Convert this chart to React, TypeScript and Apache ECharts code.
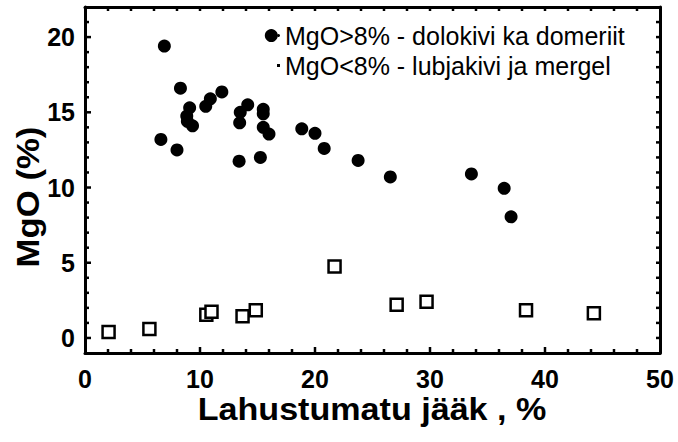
import React, { useEffect, useRef } from "react";
import * as echarts from "echarts";

const highMgO: [number, number][] = [
  [6.9, 19.4], [16.2, 20.1], [8.3, 16.6], [6.6, 13.2], [8.0, 12.5],
  [9.1, 15.3], [8.85, 14.75], [8.9, 14.4], [9.35, 14.1], [10.5, 15.4],
  [10.9, 15.9], [11.9, 16.35], [13.5, 15.0], [13.45, 14.3], [14.15, 15.5],
  [13.4, 11.75], [15.5, 15.2], [15.5, 14.9], [15.5, 14.0], [16.0, 13.55],
  [15.25, 12.0], [18.85, 13.9], [20.0, 13.6], [20.8, 12.6], [23.75, 11.8],
  [26.55, 10.7], [33.6, 10.9], [36.45, 9.95], [37.05, 8.05],
];
const lowMgO: [number, number][] = [
  [2.05, 0.4], [5.6, 0.6], [10.55, 1.55], [11.0, 1.75], [13.7, 1.45],
  [14.85, 1.85], [21.7, 4.75], [27.1, 2.2], [29.7, 2.4], [38.35, 1.85],
  [44.25, 1.65],
];
const seriesNames = ["MgO>8% - dolokivi ka domeriit", "MgO<8% - lubjakivi ja mergel"];
const xMajorTicks = [10, 20, 30, 40];
const xMinorTicks = [2, 4, 6, 8, 12, 14, 16, 18, 22, 24, 26, 28, 32, 34, 36, 38, 42, 44, 46, 48];
const yMajorTicks = [0, 5, 10, 15, 20];
const yMinorTicks = [1, 2, 3, 4, 6, 7, 8, 9, 11, 12, 13, 14, 16, 17, 18, 19, 21];
const X_MIN = 0, X_MAX = 50, X_LABEL_STEP = 10;
const Y_MIN = -1, Y_MAX = 22, Y_LABEL_STEP = 5;
const xTitle = "Lahustumatu jääk , %";
const yTitle = "MgO (%)";

const FONT = "'Liberation Sans', Arial, sans-serif";

export default function App() {
  const ref = useRef<HTMLDivElement>(null);
  useEffect(() => {
    document.body.style.margin = "0";
    const chart = echarts.init(ref.current!, null, { renderer: "svg" });
    const L = 85, R = 18, T = 7, B = 89;
    const plotH = 442 - T - B;
    const pxPerY = plotH / (Y_MAX - Y_MIN);
    const zeroBottom = B + (0 - Y_MIN) * pxPerY;
    const rect = { left: L, right: R, top: T, bottom: B };
    const line = () => ({ show: true, onZero: false, lineStyle: { color: "#000", width: 3 } });
    const labelStyle = { color: "#000", fontSize: 25, fontWeight: "bold", fontFamily: FONT };
    const hidden = { show: false };

    const titles = [
      {
        type: "text", x: 28, y: 197, rotation: Math.PI / 2, scaleX: 1.12,
        style: { text: yTitle, fill: "#000", font: `bold 31px ${FONT}`, align: "center", verticalAlign: "middle" },
      },
      {
        type: "text", x: 372, y: 410, scaleX: 1.1,
        style: { text: xTitle, fill: "#000", font: `bold 31px ${FONT}`, align: "center", verticalAlign: "middle" },
      },
    ];

    chart.setOption({
      animation: false,
      backgroundColor: "#fff",
      grid: [
        { ...rect, show: false },
        { ...rect, show: false },
        { left: L, right: R, top: T, bottom: zeroBottom, show: false },
      ],
      xAxis: [
        {
          type: "value", gridIndex: 0, position: "bottom", min: X_MIN, max: X_MAX, interval: X_LABEL_STEP,
          splitLine: hidden, axisLine: line(), axisTick: hidden,
          axisLabel: { ...labelStyle, margin: 13 },
        },
        {
          type: "value", gridIndex: 1, position: "top", min: X_MIN, max: X_MAX,
          splitLine: hidden, axisLine: line(), axisTick: hidden, axisLabel: hidden,
        },
        { type: "value", gridIndex: 2, min: X_MIN, max: X_MAX, show: false },
      ],
      yAxis: [
        {
          type: "value", gridIndex: 0, position: "left", min: Y_MIN, max: Y_MAX,
          splitLine: hidden, axisLine: line(), axisTick: hidden, axisLabel: hidden,
        },
        {
          type: "value", gridIndex: 1, position: "right", min: Y_MIN, max: Y_MAX,
          splitLine: hidden, axisLine: line(), axisTick: hidden, axisLabel: hidden,
        },
        {
          type: "value", gridIndex: 2, position: "left", min: 0, max: Y_MAX, interval: Y_LABEL_STEP,
          splitLine: hidden, axisLine: { show: false }, axisTick: hidden,
          axisLabel: { ...labelStyle, margin: 10, showMaxLabel: false },
        },
      ],
      legend: {
        orient: "vertical", left: 272, top: 18, itemWidth: 3, itemHeight: 3, itemGap: 5,
        textStyle: { color: "#000", fontSize: 25, fontFamily: FONT, lineHeight: 25 },
        data: [
          { name: seriesNames[0], icon: "circle", itemStyle: { color: "#000" } },
          { name: seriesNames[1], icon: "rect", itemStyle: { color: "#000", borderWidth: 0 } },
        ],
      },
      graphic: titles,
      series: [
        {
          name: seriesNames[0], type: "scatter", xAxisIndex: 0, yAxisIndex: 0,
          data: highMgO, symbol: "circle", symbolSize: 13,
          itemStyle: { color: "#000", opacity: 1 },
        },
        {
          name: seriesNames[1], type: "scatter", xAxisIndex: 0, yAxisIndex: 0,
          data: lowMgO, symbol: "rect", symbolSize: 12,
          itemStyle: { color: "#fff", borderColor: "#000", borderWidth: 2.5, opacity: 1 },
        },
      ],
    });

    // tick marks, positioned through the chart's own scales
    const toPx = (x: number, y: number) =>
      chart.convertToPixel({ seriesIndex: 0 }, [x, y]) as unknown as number[];
    const tickStyle = { stroke: "#000", lineWidth: 2.5 };
    const ticks: any[] = [];
    const addX = (values: number[], nearLen: number, farLen: number) => {
      values.forEach((v) => {
        const b = toPx(v, Y_MIN);
        const t = toPx(v, Y_MAX);
        ticks.push({ type: "line", z: 10, silent: true, shape: { x1: b[0], y1: b[1], x2: b[0], y2: b[1] - nearLen }, style: tickStyle });
        ticks.push({ type: "line", z: 10, silent: true, shape: { x1: t[0], y1: t[1], x2: t[0], y2: t[1] + farLen }, style: tickStyle });
      });
    };
    const addY = (values: number[], nearLen: number, farLen: number) => {
      values.forEach((v) => {
        const l = toPx(X_MIN, v);
        const r = toPx(X_MAX, v);
        ticks.push({ type: "line", z: 10, silent: true, shape: { x1: l[0], y1: l[1], x2: l[0] + nearLen, y2: l[1] }, style: tickStyle });
        ticks.push({ type: "line", z: 10, silent: true, shape: { x1: r[0], y1: r[1], x2: r[0] - farLen, y2: r[1] }, style: tickStyle });
      });
    };
    addX(xMajorTicks, 6, 4);
    addX(xMinorTicks, 4, 4);
    addY(yMajorTicks, 6, 4);
    addY(yMinorTicks, 4, 4);
    if (ticks.every((t) => t.shape.x1 === t.shape.x1 && t.shape.y1 === t.shape.y1)) {
      chart.setOption({ graphic: [...titles, ...ticks] }, { replaceMerge: ["graphic"] });
    }
    return () => chart.dispose();
  }, []);
  return <div ref={ref} style={{ width: 678, height: 442 }} />;
}
